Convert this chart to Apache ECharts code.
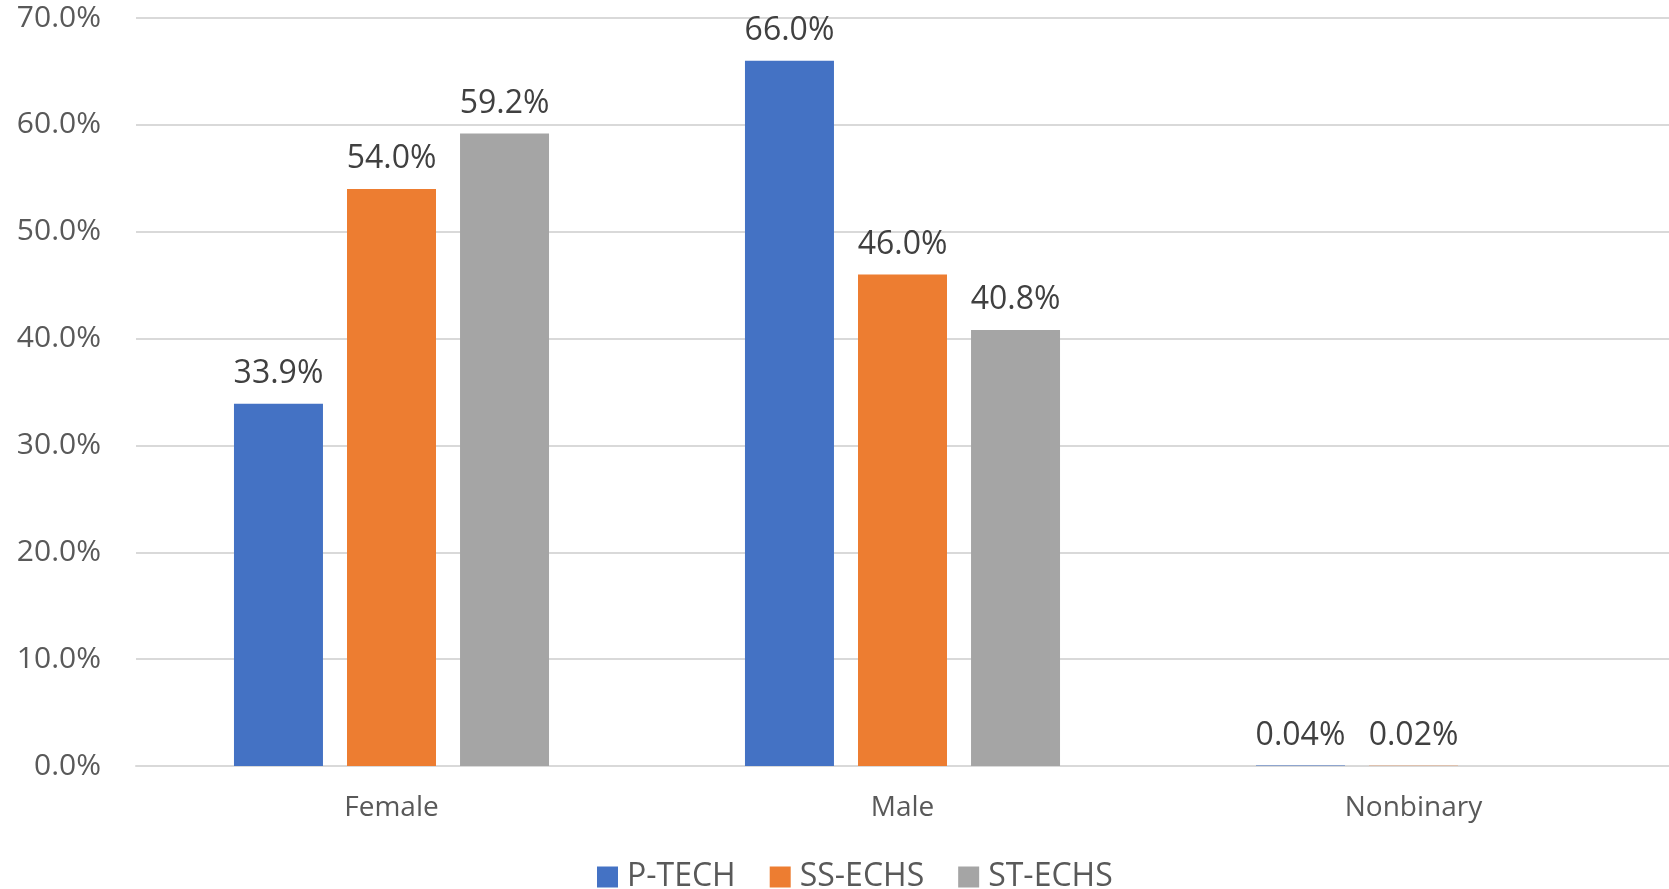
<!DOCTYPE html>
<html><head><meta charset="utf-8">
<script src="https://cdn.jsdelivr.net/npm/echarts@6/dist/echarts.min.js"></script>
<style>html,body{margin:0;padding:0;background:#fff}#c{width:1669px;height:889px}</style>
</head><body><div id="c"></div>
<script>
const categories = ['Female', 'Male', 'Nonbinary'];
const pTech = [33.9, 66.0, 0.04];
const ssEchs = [54.0, 46.0, 0.02];
const stEchs = [59.2, 40.8, null];
const seriesNames = ['P-TECH', 'SS-ECHS', 'ST-ECHS'];
const colors = ['#4472C4', '#ED7D31', '#A5A5A5'];

const font = '"Open Sans", "Noto Sans", sans-serif';
const chart = echarts.init(document.getElementById('c'));
function fmtLabel(p) {
  const v = p.value;
  if (v == null) return '';
  return v < 1 ? v.toFixed(2) + '%' : v.toFixed(1) + '%';
}
const mk = (name, data, i) => ({
  name, type: 'bar', data,
  barWidth: 89, barGap: '27%',
  itemStyle: { color: colors[i] },
  label: { show: true, position: 'top', distance: 14, formatter: fmtLabel,
    color: '#404040', fontSize: 32, fontFamily: font },
  emphasis: { disabled: true }
});
chart.setOption({
  animation: false,
  textStyle: { fontFamily: font },
  grid: { left: 136, right: 0, top: 18, bottom: 123, containLabel: false },
  legend: {
    left: 592, bottom: -9, itemWidth: 21, itemHeight: 21, itemGap: 34, icon: 'rect',
    textStyle: { color: '#595959', fontSize: 32, fontFamily: font, padding: [0, 0, 0, 4] },
    data: seriesNames
  },
  xAxis: {
    type: 'category', data: categories,
    axisLine: { lineStyle: { color: '#D9D9D9', width: 2 } },
    axisTick: { show: false },
    axisLabel: { color: '#595959', fontSize: 28, margin: 28, fontFamily: font }
  },
  yAxis: {
    type: 'value', min: 0, max: 70, interval: 10,
    axisLine: { show: false }, axisTick: { show: false },
    splitLine: { lineStyle: { color: '#D9D9D9', width: 2 } },
    axisLabel: { color: '#595959', fontSize: 30, margin: 35, fontFamily: font,
      formatter: v => v.toFixed(1) + '%' }
  },
  series: [mk(seriesNames[0], pTech, 0), mk(seriesNames[1], ssEchs, 1), mk(seriesNames[2], stEchs, 2)]
});
</script></body></html>
